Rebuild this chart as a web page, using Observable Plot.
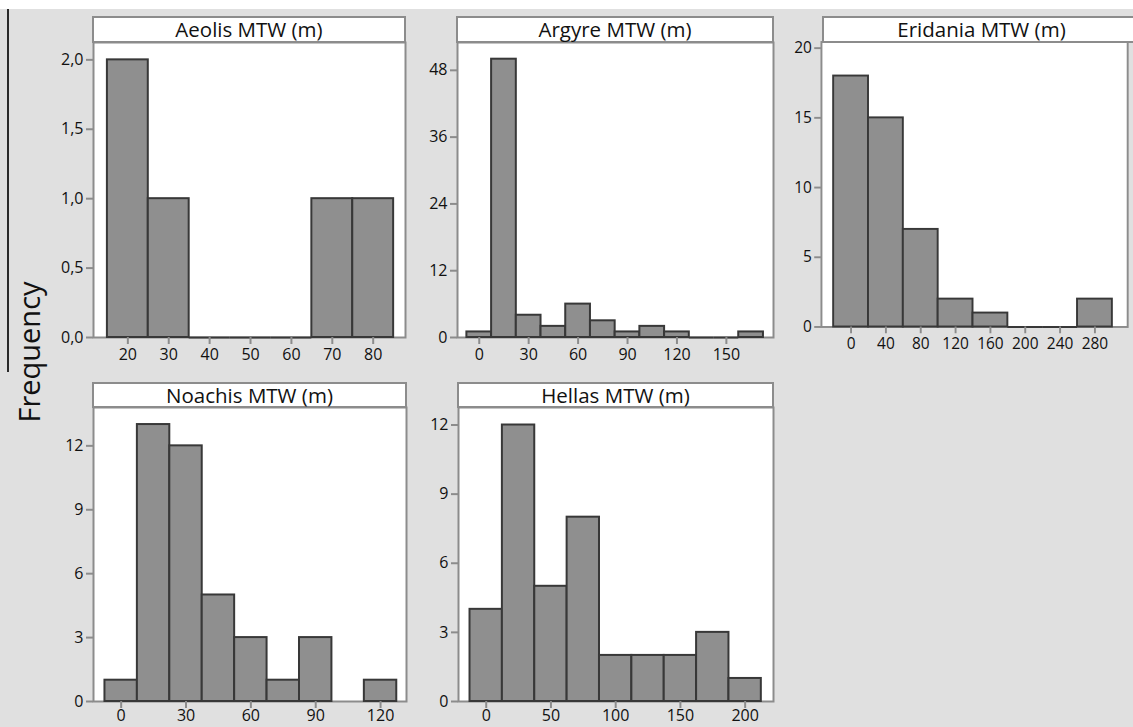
<!DOCTYPE html>
<html>
<head>
<meta charset="utf-8">
<script src="https://cdn.jsdelivr.net/npm/d3@7"></script>
<script src="https://cdn.jsdelivr.net/npm/@observablehq/plot@0.6"></script>
<style>
  body { margin: 0; overflow: hidden; background: #e0e0e0; }
  #root { position: relative; width: 1133px; height: 727px; background: #e0e0e0; overflow: hidden; font-family: "Open Sans", sans-serif; }
  .hdr { position: absolute; box-sizing: border-box; background: #fff; border: 2px solid #8c8c8c; text-align: center; font-size: 20.5px; font-weight: 500; color: #111; }
  .panel { position: absolute; }
</style>
</head>
<body>
<div id="root"></div>
<script>
// ---- data (bin centres, counts, tick values) ----
const aeolisCenters = [20, 30, 40, 50, 60, 70, 80];
const aeolisCounts  = [2, 1, 0, 0, 0, 1, 1];
const aeolisXTicks  = [20, 30, 40, 50, 60, 70, 80];
const aeolisYTicks  = [0, 0.5, 1, 1.5, 2];

const argyreCenters = [0, 15, 30, 45, 60, 75, 90, 105, 120, 135, 150, 165];
const argyreCounts  = [1, 50, 4, 2, 6, 3, 1, 2, 1, 0, 0, 1];
const argyreXTicks  = [0, 30, 60, 90, 120, 150];
const argyreYTicks  = [0, 12, 24, 36, 48];

const eridaniaCenters = [0, 40, 80, 120, 160, 200, 240, 280];
const eridaniaCounts  = [18, 15, 7, 2, 1, 0, 0, 2];
const eridaniaXTicks  = [0, 40, 80, 120, 160, 200, 240, 280];
const eridaniaYTicks  = [0, 5, 10, 15, 20];

const noachisCenters = [0, 15, 30, 45, 60, 75, 90, 120];
const noachisCounts  = [1, 13, 12, 5, 3, 1, 3, 1];
const noachisXTicks  = [0, 30, 60, 90, 120];
const noachisYTicks  = [0, 3, 6, 9, 12];

const hellasCenters = [0, 25, 50, 75, 100, 125, 150, 175, 200];
const hellasCounts  = [4, 12, 5, 8, 2, 2, 2, 3, 1];
const hellasXTicks  = [0, 50, 100, 150, 200];
const hellasYTicks  = [0, 3, 6, 9, 12];

const yLabel = "Frequency";

// ---- layout ----
const root = document.getElementById("root");

const strip = document.createElement("div");
strip.style.cssText = "position:absolute;left:0;top:0;width:1133px;height:9px;background:#fff;";
root.appendChild(strip);

const vline = document.createElement("div");
vline.style.cssText = "position:absolute;left:7px;top:9px;width:2px;height:363px;background:#2a2a2a;";
root.appendChild(vline);

const yl = document.createElement("div");
yl.textContent = yLabel;
yl.style.cssText = "position:absolute;left:28px;top:352px;transform:translate(-50%,-50%) rotate(-90deg);font-size:29px;line-height:1;white-space:nowrap;color:#111;";
root.appendChild(yl);

const commaFmt = d => d.toFixed(1).replace(".", ",");
const intFmt = d3.format("d");

function panel(cfg) {
  const mL = 60, mR = 6, mT = 14, mB = cfg.mB || 40;
  const w = cfg.boxRight - cfg.boxLeft + mL + mR;
  const h = cfg.plotBottom - cfg.headerBottom + mT + mB;
  const bins = cfg.centers.map((c, i) => ({x1: c - cfg.bw / 2, x2: c + cfg.bw / 2, count: cfg.counts[i]}));
  const chart = Plot.plot({
    width: w, height: h,
    marginLeft: mL, marginRight: mR, marginTop: mT, marginBottom: mB,
    x: {domain: cfg.xDomain, label: null},
    y: {domain: cfg.yDomain, label: null},
    style: {fontFamily: "Open Sans, sans-serif", fontSize: "16px", background: "transparent", color: "#111", overflow: "visible"},
    marks: [
      Plot.frame({fill: "#fff", stroke: "#8c8c8c", strokeWidth: 2}),
      Plot.rectY(bins.filter(d => d.count > 0), {x1: "x1", x2: "x2", y: "count", fill: "#8f8f8f", stroke: "#383838", strokeWidth: 2}),
      Plot.ruleY(bins.filter(d => d.count === 0), {x1: "x1", x2: "x2", y: "count", stroke: "#383838", strokeWidth: 2}),
      Plot.axisX(cfg.xTicks, {tickSize: 7, tickPadding: cfg.xPad ?? 4, stroke: "#8c8c8c", fill: "#111", strokeWidth: 2, fontSize: 16, tickFormat: intFmt, label: null}),
      Plot.axisY(cfg.yTicks, {tickSize: 7, tickPadding: 3, stroke: "#8c8c8c", fill: "#111", strokeWidth: 2, fontSize: 16, tickFormat: cfg.yFmt || intFmt, label: null})
    ]
  });
  const wrap = document.createElement("div");
  wrap.className = "panel";
  wrap.style.left = (cfg.boxLeft - mL) + "px";
  wrap.style.top = (cfg.headerBottom - mT) + "px";
  wrap.appendChild(chart);
  root.appendChild(wrap);

  const hd = document.createElement("div");
  hd.className = "hdr";
  hd.textContent = cfg.title;
  hd.style.left = (cfg.boxLeft - 1) + "px";
  hd.style.top = cfg.headerTop + "px";
  hd.style.width = (cfg.boxRight - cfg.boxLeft + 2) + "px";
  hd.style.height = (cfg.headerBottom - cfg.headerTop + 1) + "px";
  hd.style.lineHeight = (cfg.headerBottom - cfg.headerTop - 3) + "px";
  root.appendChild(hd);
}

panel({title: "Aeolis MTW (m)", centers: aeolisCenters, counts: aeolisCounts, bw: 10,
  xTicks: aeolisXTicks, yTicks: aeolisYTicks, xDomain: [11.6, 87.9], yDomain: [0, 2.125], yFmt: commaFmt,
  boxLeft: 93, boxRight: 405, headerTop: 16, headerBottom: 42, plotBottom: 337});
panel({title: "Argyre MTW (m)", centers: argyreCenters, counts: argyreCounts, bw: 15,
  xTicks: argyreXTicks, yTicks: argyreYTicks, xDomain: [-13.2, 178.6], yDomain: [0, 53.0],
  boxLeft: 457, boxRight: 773, headerTop: 16, headerBottom: 42, plotBottom: 337});
panel({title: "Eridania MTW (m)", centers: eridaniaCenters, counts: eridaniaCounts, bw: 40,
  xTicks: eridaniaXTicks, yTicks: eridaniaYTicks, xDomain: [-34.0, 317.6], yDomain: [0, 20.44],
  boxLeft: 823, boxRight: 1140, headerTop: 16, headerBottom: 42, plotBottom: 337});
panel({title: "Noachis MTW (m)", centers: noachisCenters, counts: noachisCounts, bw: 15,
  xTicks: noachisXTicks, yTicks: noachisYTicks, xDomain: [-12.8, 132.0], yDomain: [0, 13.8],
  boxLeft: 93, boxRight: 406, headerTop: 382, headerBottom: 407, plotBottom: 701, xPad: 1.5, mB: 26});
panel({title: "Hellas MTW (m)", centers: hellasCenters, counts: hellasCounts, bw: 25,
  xTicks: hellasXTicks, yTicks: hellasYTicks, xDomain: [-21.4, 221.9], yDomain: [0, 12.76],
  boxLeft: 458, boxRight: 773, headerTop: 382, headerBottom: 407, plotBottom: 701, xPad: 1.5, mB: 26});
</script>
</body>
</html>
